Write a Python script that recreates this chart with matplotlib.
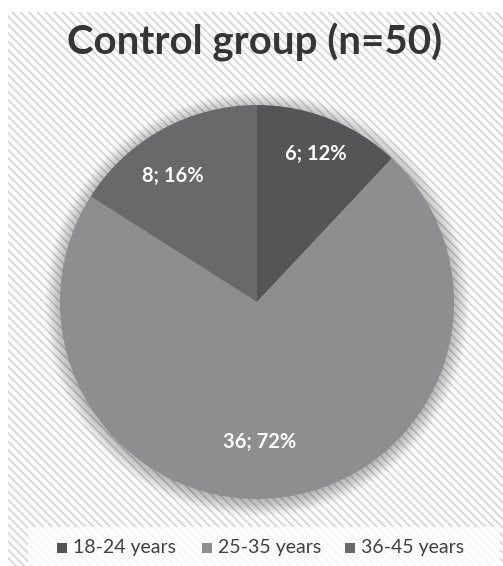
import numpy as np
import matplotlib.pyplot as plt
from matplotlib.patches import Rectangle, Circle

# Dados do gráfico
categorias = ['18-24 years', '25-35 years', '36-45 years']
contagens = [6, 36, 8]
percentuais = [12, 72, 16]
cores = ['#555557', '#8e8e90', '#69696b']
titulo = 'Control group (n=50)'

W, H = 503, 566
fig = plt.figure(figsize=(W / 100, H / 100), dpi=100)
fig.patch.set_facecolor('white')

# Fundo listrado
plt.rcParams['hatch.color'] = '#d4d4d4'
plt.rcParams['hatch.linewidth'] = 1.2
fundo = Rectangle((8 / W, 0), 1 - 8 / W, 1 - 12 / H, transform=fig.transFigure,
                  facecolor='white', edgecolor='#d4d4d4', hatch='\\\\\\\\', linewidth=0,
                  zorder=-2)
fig.patches.append(fundo)

# Eixos da pizza (centro e raio em pixels)
cx, cy, r = 257, 302, 197
meia = 215
ax = fig.add_axes([(cx - meia) / W, (H - cy - meia) / H, 2 * meia / W, 2 * meia / H])
ax.set_zorder(1)

# Sombra suave em volta da pizza
for k in range(12):
    ax.add_patch(Circle((0, -0.012), 1.0 + k * 0.007, color='black', alpha=0.025,
                        linewidth=0, zorder=0))

rotulos = [f'{c}; {p}%' for c, p in zip(contagens, percentuais)]
fatias, textos = ax.pie(contagens, colors=cores, startangle=90, counterclock=False,
                        radius=1, wedgeprops=dict(linewidth=0),
                        labels=rotulos, labeldistance=0.76)

# Ajuste fino da posição dos rótulos (tipo "melhor ajuste" do Excel)
dist_rotulo = [0.81, 0.71, 0.77]
desvio_ang = [0, -6, 5]
for f, t, d, da in zip(fatias, textos, dist_rotulo, desvio_ang):
    ang = np.deg2rad((f.theta1 + f.theta2) / 2 + da)
    t.set_position((d * np.cos(ang), d * np.sin(ang)))
    t.set_color('white')
    t.set_fontsize(14.5)
    t.set_fontweight('bold')
    t.set_fontfamily('Lato')
    t.set_ha('center')
    t.set_va('center')
for f in fatias:
    f.set_zorder(2)

ax.set_xlim(-meia / r, meia / r)
ax.set_ylim(-meia / r, meia / r)
ax.set_aspect('equal')
ax.axis('off')

fig.text(255 / W, 1 - 42 / H, titulo, ha='center', va='center', fontsize=29,
         fontweight='bold', color='#353535', family='Lato', zorder=3)

# Caixa da legenda
fig.patches.append(Rectangle((28 / W, 0), 472 / W, 39 / H, transform=fig.transFigure,
                             facecolor='white', alpha=0.8, linewidth=0, zorder=-1))
leg_x = [57, 202, 345]
for x, cat, cor in zip(leg_x, categorias, cores):
    fig.patches.append(Rectangle((x / W, 1 - 553 / H), 10 / W, 10 / H,
                                 transform=fig.transFigure, facecolor=cor,
                                 linewidth=0, zorder=3))
    fig.text((x + 16) / W, 1 - 548 / H, cat, ha='left', va='center', fontsize=14,
             color='#404040', family='Lato', zorder=3)

fig.savefig('out.png', dpi=100)
